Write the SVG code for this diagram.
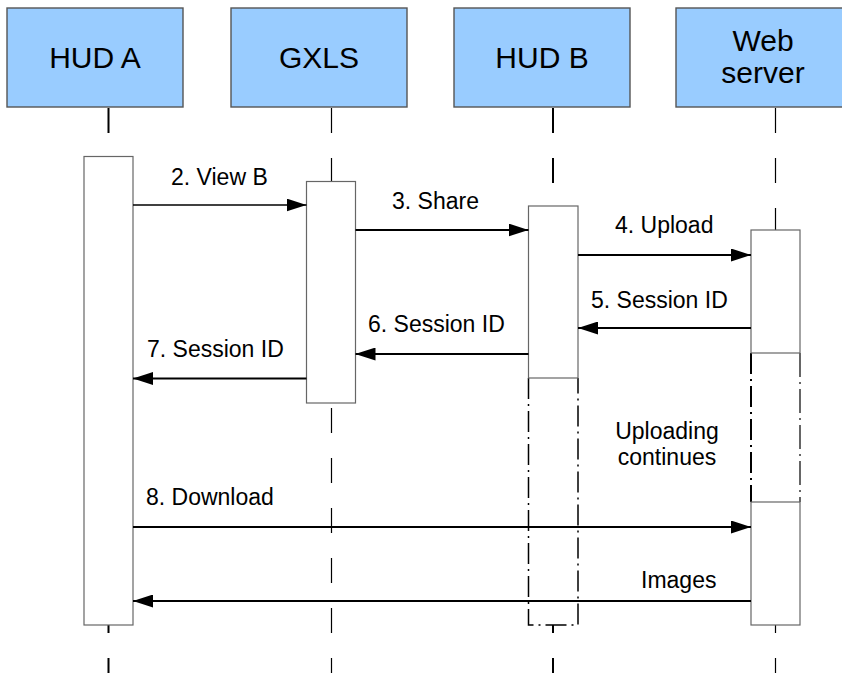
<svg xmlns="http://www.w3.org/2000/svg" width="842" height="673" viewBox="0 0 842 673">
  <style>
    .head { fill: #99ccff; stroke: #555; stroke-width: 1.4; }
    .htxt { font-family: "Liberation Sans", Arial, sans-serif; font-size: 30px; fill: #000; text-anchor: middle; }
    .life { stroke: #000; fill: none; stroke-dasharray: 25 25; }
    .bar { fill: #fff; stroke: #666; stroke-width: 1.2; }
    .dd { fill: none; stroke: #000; stroke-width: 1.5; stroke-dasharray: 21 5 2 5; }
    .blank { fill: #fff; stroke: none; }
    .msg { stroke: #000; stroke-width: 2; fill: none; marker-end: url(#arrow); }
    .lbl { font-family: "Liberation Sans", Arial, sans-serif; font-size: 23px; fill: #000; }
  </style>
  <defs>
    <marker id="arrow" viewBox="0 0 20 13" refX="20" refY="6.5" markerWidth="20" markerHeight="13" markerUnits="userSpaceOnUse" orient="auto">
      <path d="M0,0 L20,6.5 L0,13 Z" fill="#000"/>
    </marker>
  </defs>
  <rect width="842" height="673" fill="#fff"/>

  <!-- lifelines -->
  <g id="lifelines">
    <line class="life" x1="108.5" y1="108" x2="108.5" y2="673" stroke-width="2"/>
    <line class="life" x1="331.5" y1="108" x2="331.5" y2="673" stroke-width="1.2"/>
    <line class="life" x1="553" y1="108" x2="553" y2="673" stroke-width="2"/>
    <line class="life" x1="775.5" y1="108" x2="775.5" y2="673" stroke-width="1.2"/>
  </g>

  <g id="hud-a">
    <rect class="head" x="7" y="8" width="176" height="99"/>
    <text class="htxt" x="95" y="68">HUD A</text>
    <rect class="bar" x="84" y="156.5" width="49" height="468.5"/>
  </g>

  <g id="gxls">
    <rect class="head" x="231" y="8" width="176" height="99"/>
    <text class="htxt" x="319" y="68">GXLS</text>
    <rect class="bar" x="306.5" y="181.5" width="49" height="221.5"/>
  </g>

  <g id="hud-b">
    <rect class="head" x="454" y="8" width="176" height="99"/>
    <text class="htxt" x="542" y="68">HUD B</text>
    <!-- idle period after handing over the upload -->
    <rect class="blank" x="528.5" y="378" width="49.5" height="247"/>
    <path class="dd" d="M528.5,378 V625 H578 V378"/>
    <rect class="bar" x="528.5" y="206" width="49.5" height="172"/>
  </g>

  <g id="web-server">
    <rect class="head" x="676" y="8" width="176" height="99"/>
    <text class="htxt" x="763" y="51">Web</text>
    <text class="htxt" x="763" y="83">server</text>
    <!-- background upload between the two activations -->
    <rect class="blank" x="751" y="353" width="49" height="149"/>
    <line class="dd" x1="751" y1="353" x2="751" y2="502" style="stroke-width: 2"/>
    <line class="dd" x1="800" y1="353" x2="800" y2="502" style="stroke-width: 1.2; stroke-dasharray: 24 5 2 5"/>
    <rect class="bar" x="751" y="230" width="49" height="123"/>
    <rect class="bar" x="751" y="502" width="49" height="123"/>
  </g>

  <!-- messages -->
  <g id="connectors">
    <line class="msg" x1="133" y1="205" x2="306.5" y2="205" style="stroke-width: 1.3"/>
    <line class="msg" x1="355.5" y1="230" x2="528.5" y2="230"/>
    <line class="msg" x1="578" y1="255" x2="751" y2="255"/>
    <line class="msg" x1="751" y1="328" x2="578" y2="328"/>
    <line class="msg" x1="528.5" y1="354" x2="355.5" y2="354"/>
    <line class="msg" x1="306.5" y1="378.5" x2="133" y2="378.5"/>
    <line class="msg" x1="133" y1="527" x2="751" y2="527"/>
    <line class="msg" x1="751" y1="601" x2="133" y2="601"/>
  </g>

  <g id="labels">
    <text class="lbl" x="171" y="185">2. View B</text>
    <text class="lbl" x="392" y="209">3. Share</text>
    <text class="lbl" x="615" y="233">4. Upload</text>
    <text class="lbl" x="591" y="308">5. Session ID</text>
    <text class="lbl" x="368" y="332">6. Session ID</text>
    <text class="lbl" x="147" y="357">7. Session ID</text>
    <text class="lbl" x="667" y="439" text-anchor="middle">Uploading</text>
    <text class="lbl" x="667" y="465" text-anchor="middle">continues</text>
    <text class="lbl" x="146" y="505">8. Download</text>
    <text class="lbl" x="641" y="588">Images</text>
  </g>
</svg>
